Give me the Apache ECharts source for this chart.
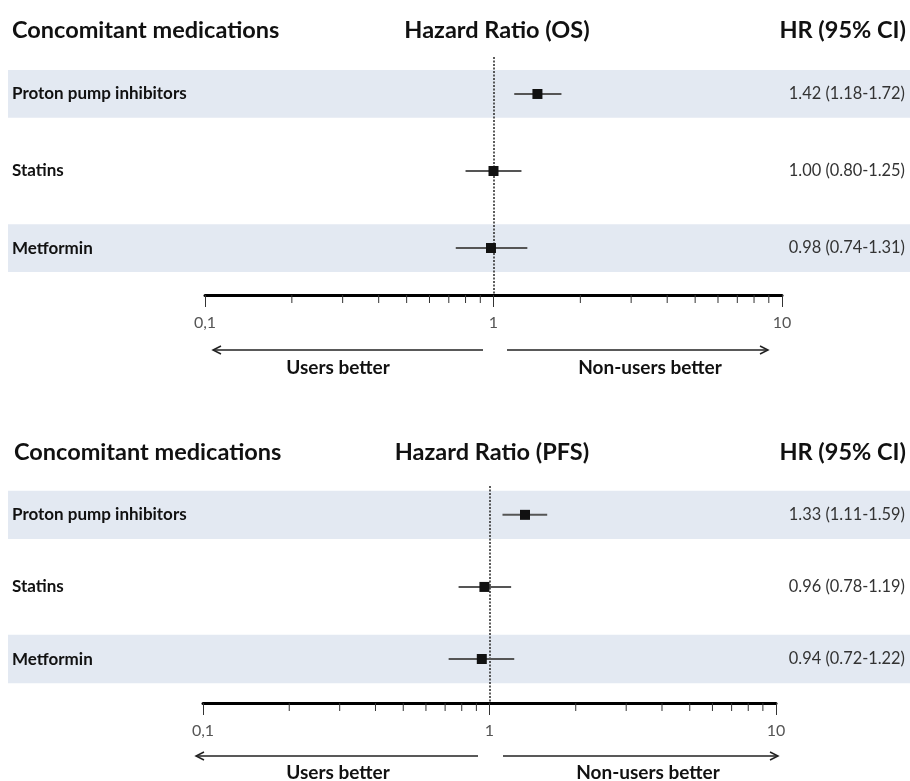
<!DOCTYPE html>
<html><head><meta charset="utf-8">
<script src="https://cdn.jsdelivr.net/npm/echarts@6/dist/echarts.min.js"></script>
<style>html,body{margin:0;padding:0;background:#fff}#c{width:910px;height:781px}</style>
</head><body><div id="c"></div>
<script>
const medications = ['Proton pump inhibitors', 'Statins', 'Metformin'];
const osHR = [1.42, 1.00, 0.98];
const osLow = [1.18, 0.80, 0.74];
const osHigh = [1.72, 1.25, 1.31];
const pfsHR = [1.33, 0.96, 0.94];
const pfsLow = [1.11, 0.78, 0.72];
const pfsHigh = [1.59, 1.19, 1.22];
const minorTickValues = [0.2, 0.3, 0.4, 0.5, 0.6, 0.7, 0.8, 0.9, 2, 3, 4, 5, 6, 7, 8, 9];
const headers = ['Concomitant medications', 'HR (95% CI)'];
const panelTitles = ['Hazard Ratio (OS)', 'Hazard Ratio (PFS)'];
const directionLabels = ['Users better', 'Non-users better'];

const FONT = "Lato, 'Open Sans', sans-serif";
const chart = echarts.init(document.getElementById('c'), null, {renderer: 'canvas'});

function fmt(v) { return v.toFixed(2); }
function rows(hr, lo, hi) {
  return hr.map((v, i) => [v, lo[i], hi[i], i]);
}

function bandSeries(gi, hr, lo, hi, half) {
  return {
    type: 'custom', xAxisIndex: gi, yAxisIndex: gi, z: 1, clip: false, silent: true,
    data: rows(hr, lo, hi),
    encode: {x: [0, 1, 2], y: 3},
    renderItem: function (params, api) {
      const idx = api.value(3);
      const cy = api.coord([1, idx])[1];
      const y1 = api.coord([1, idx - half])[1];
      const y2 = api.coord([1, idx + half])[1];
      const children = [];
      if (idx % 2 === 0) {
        children.push({type: 'rect', shape: {x: 8, y: y1, width: api.getWidth() - 8, height: y2 - y1},
          style: {fill: '#e3e9f2'}});
      }
      children.push({type: 'text', style: {x: 12, y: cy, text: medications[idx], fill: '#111',
        font: 'bold 17px ' + FONT, textAlign: 'left', textVerticalAlign: 'middle'}});
      children.push({type: 'text', style: {x: 905, y: cy,
        text: fmt(api.value(0)) + ' (' + fmt(api.value(1)) + '-' + fmt(api.value(2)) + ')',
        fill: '#333', font: '16.4px ' + FONT, textAlign: 'right', textVerticalAlign: 'middle'}});
      return {type: 'group', children: children};
    }
  };
}

function ciSeries(gi, hr, lo, hi) {
  return {
    type: 'custom', xAxisIndex: gi, yAxisIndex: gi, z: 4, clip: false, silent: true,
    data: rows(hr, lo, hi),
    encode: {x: [0, 1, 2], y: 3},
    renderItem: function (params, api) {
      const idx = api.value(3);
      const c = api.coord([api.value(0), idx]);
      const l = api.coord([api.value(1), idx]);
      const h = api.coord([api.value(2), idx]);
      const s = 10;
      return {type: 'group', children: [
        {type: 'line', shape: {x1: l[0], y1: c[1], x2: h[0], y2: c[1]}, style: {stroke: '#555', lineWidth: 2}},
        {type: 'rect', shape: {x: c[0] - s / 2, y: c[1] - s / 2, width: s, height: s}, style: {fill: '#111'}}
      ]};
    },
    markLine: {
      silent: true, symbol: 'none', z: 3,
      label: {show: false},
      lineStyle: {color: '#333', width: 1.6, type: [2, 1.5]},
      data: [{xAxis: 1}]
    }
  };
}

function minorTickSeries(gi, ymax) {
  return {
    type: 'custom', xAxisIndex: gi, yAxisIndex: gi, z: 5, clip: false, silent: true,
    data: minorTickValues.map(v => [v, ymax]),
    encode: {x: 0, y: 1},
    renderItem: function (params, api) {
      const p = api.coord([api.value(0), api.value(1)]);
      return {type: 'line', shape: {x1: p[0], y1: p[1], x2: p[0], y2: p[1] + 8},
        style: {stroke: '#333', lineWidth: 1}};
    }
  };
}

function xAxisCfg(gi) {
  return {
    gridIndex: gi, type: 'log', logBase: 10, min: 0.1, max: 10, position: 'bottom',
    axisLine: {show: true, onZero: false, lineStyle: {color: '#000', width: 3}},
    axisTick: {show: true, inside: false, length: 12, lineStyle: {color: '#333', width: 1}},
    minorTick: {show: false},
    splitLine: {show: false},
    axisLabel: {margin: 20, color: '#555', fontFamily: FONT, fontSize: 16,
      formatter: v => String(v).replace('.', ',')}
  };
}
function yAxisCfg(gi, min, max) {
  return {gridIndex: gi, type: 'value', inverse: true, min: min, max: max, show: false};
}

function arrow(x1, x2, y, dir) {
  const hx = dir < 0 ? x1 : x2;
  return [
    {type: 'line', shape: {x1: x1, y1: y, x2: x2, y2: y}, style: {stroke: '#222', lineWidth: 1.5}},
    {type: 'polyline', shape: {points: [[hx - dir * 8, y - 4], [hx, y], [hx - dir * 8, y + 4]]},
      style: {stroke: '#222', lineWidth: 1.5, fill: null}}
  ];
}
function txt(x, y, t, size, align, bold) {
  return {type: 'text', style: {x: x, y: y, text: t, fill: '#111',
    font: (bold ? 'bold ' : '') + size + 'px ' + FONT, textAlign: align, textVerticalAlign: 'middle'}};
}

const graphics = [
  txt(12, 30, headers[0], 23.5, 'left', true),
  txt(497, 30, panelTitles[0], 23.5, 'center', true),
  txt(906, 30, headers[1], 23.5, 'right', true),
  txt(14, 452, headers[0], 23.5, 'left', true),
  txt(492, 452, panelTitles[1], 23.5, 'center', true),
  txt(906, 452, headers[1], 23.5, 'right', true),
  ...arrow(213, 483, 350, -1), ...arrow(507, 768, 350, 1),
  txt(338, 368, directionLabels[0], 19, 'center', true),
  txt(650, 368, directionLabels[1], 19, 'center', true),
  ...arrow(196, 478, 756, -1), ...arrow(503, 778, 756, 1),
  txt(338, 773, directionLabels[0], 19, 'center', true),
  txt(648, 773, directionLabels[1], 19, 'center', true)
];

chart.setOption({
  animation: false,
  backgroundColor: '#fff',
  grid: [
    {left: 205, right: 128, top: 57, height: 238},
    {left: 203, right: 134, top: 486, height: 217}
  ],
  xAxis: [xAxisCfg(0), xAxisCfg(1)],
  yAxis: [yAxisCfg(0, -0.48, 2.61), yAxisCfg(1, -0.40, 2.61)],
  series: [
    bandSeries(0, osHR, osLow, osHigh, 0.31),
    ciSeries(0, osHR, osLow, osHigh),
    minorTickSeries(0, 2.61),
    bandSeries(1, pfsHR, pfsLow, pfsHigh, 0.335),
    ciSeries(1, pfsHR, pfsLow, pfsHigh),
    minorTickSeries(1, 2.61)
  ],
  graphic: graphics
});
</script></body></html>
